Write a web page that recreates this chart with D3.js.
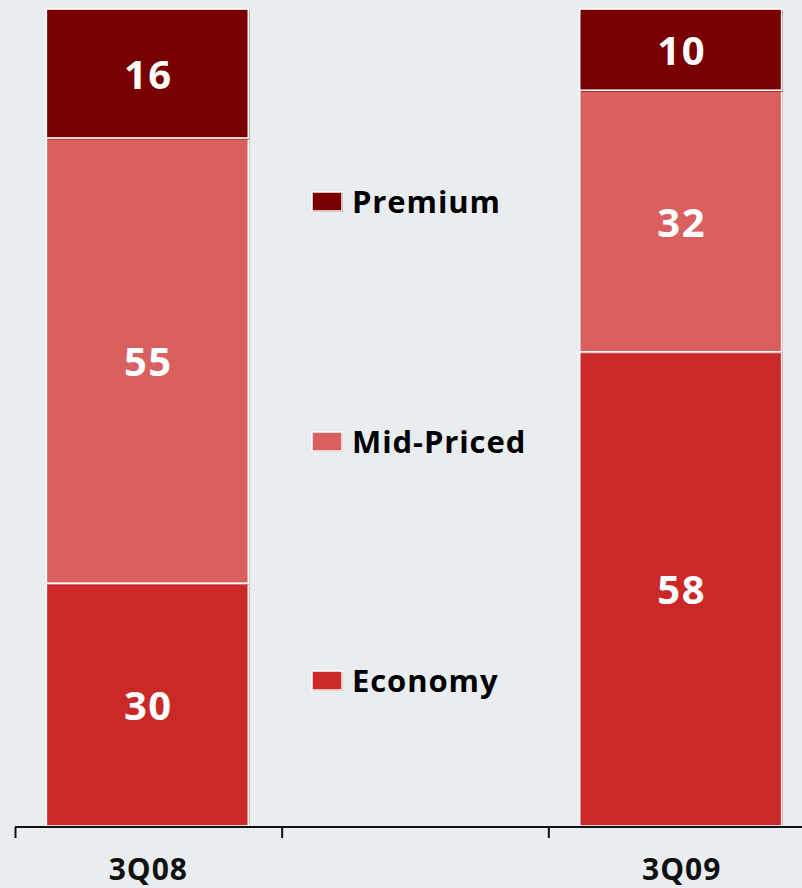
<!DOCTYPE html>
<html><head><meta charset="utf-8">
<script src="https://cdn.jsdelivr.net/npm/d3@7/dist/d3.min.js"></script>
<style>
html,body{margin:0;padding:0;background:#e9edef;}
svg{display:block;font-family:"Open Sans",sans-serif;}
</style></head>
<body>
<script>
const categories = ["3Q08", "", "3Q09"];
const seriesNames = ["Economy", "Mid-Priced", "Premium"];
const economy = [30, null, 58];
const midPriced = [55, null, 32];
const premium = [16, null, 10];
const colors = ["#cb2828", "#da5f5f", "#790000"];

const W = 802, H = 888;
const svg = d3.select("body").append("svg").attr("width", W).attr("height", H);
svg.append("rect").attr("width", W).attr("height", H).attr("fill", "#e9edef");

const rows = categories.map((c, i) => ({cat: c, "Economy": economy[i] || 0, "Mid-Priced": midPriced[i] || 0, "Premium": premium[i] || 0}));
const barRows = rows.filter(r => r.cat !== "");
const stacked = d3.stack().keys(seriesNames).offset(d3.stackOffsetExpand)(barRows);

const x = d3.scaleBand().domain(categories).range([15, 815]).padding(0);
const y = d3.scaleLinear().domain([0, 1]).range([826.5, 9]);
const barW = 202;
const color = d3.scaleOrdinal().domain(seriesNames).range(colors);

stacked.forEach(layer => {
  const g = svg.append("g");
  layer.forEach(d => {
    const cx = x(d.data.cat) + x.bandwidth() / 2;
    const x0 = cx - barW / 2 - 1;
    const y0 = y(d[1]), y1 = y(d[0]);
    g.append("rect").attr("x", x0 + 1).attr("y", y0 + 1).attr("width", barW).attr("height", y1 - y0)
      .attr("fill", color(layer.key));
    g.append("rect").attr("x", x0).attr("y", y0).attr("width", barW).attr("height", y1 - y0 - 0.5)
      .attr("fill", color(layer.key)).attr("stroke", "#fff").attr("stroke-width", 1.6);
    g.append("text").attr("x", cx).attr("y", (y0 + y1) / 2 + 15)
      .attr("text-anchor", "middle").attr("fill", "#fff")
      .attr("font-weight", 700).attr("font-size", 40).attr("letter-spacing", 1.5)
      .text(d.data[layer.key]);
  });
});

// axis
const ax = svg.append("g").attr("transform", "translate(0,827)");
ax.append("line").attr("x1", 15).attr("x2", 802).attr("y1", 0).attr("y2", 0)
  .attr("stroke", "#111").attr("stroke-width", 2);
const bounds = categories.map(c => x(c));
ax.selectAll("line.tick").data(bounds).join("line").attr("class", "tick")
  .attr("x1", d => d + 0.5).attr("x2", d => d + 0.5).attr("y1", 0).attr("y2", 11)
  .attr("stroke", "#111").attr("stroke-width", 2);
ax.selectAll("text.lbl").data(categories.filter(c => c !== "")).join("text").attr("class", "lbl")
  .attr("x", d => x(d) + x.bandwidth() / 2).attr("y", 53)
  .attr("text-anchor", "middle").attr("font-weight", 700).attr("font-size", 30)
  .attr("letter-spacing", 1).attr("fill", "#111")
  .text(d => d);

// legend
const legendY = {"Premium": 202, "Mid-Priced": 442, "Economy": 681};
const lg = svg.append("g");
seriesNames.forEach(k => {
  const cy = legendY[k];
  lg.append("rect").attr("x", 313).attr("y", cy - 9).attr("width", 30).attr("height", 19).attr("fill", color(k));
  lg.append("rect").attr("x", 312).attr("y", cy - 10).attr("width", 30).attr("height", 19)
    .attr("fill", color(k)).attr("stroke", "#fff").attr("stroke-width", 1.5);
  lg.append("text").attr("x", 352).attr("y", cy + 11).attr("font-weight", 700).attr("font-size", 31)
    .attr("letter-spacing", 0.9).attr("fill", "#000").text(k);
});
</script>
</body></html>
